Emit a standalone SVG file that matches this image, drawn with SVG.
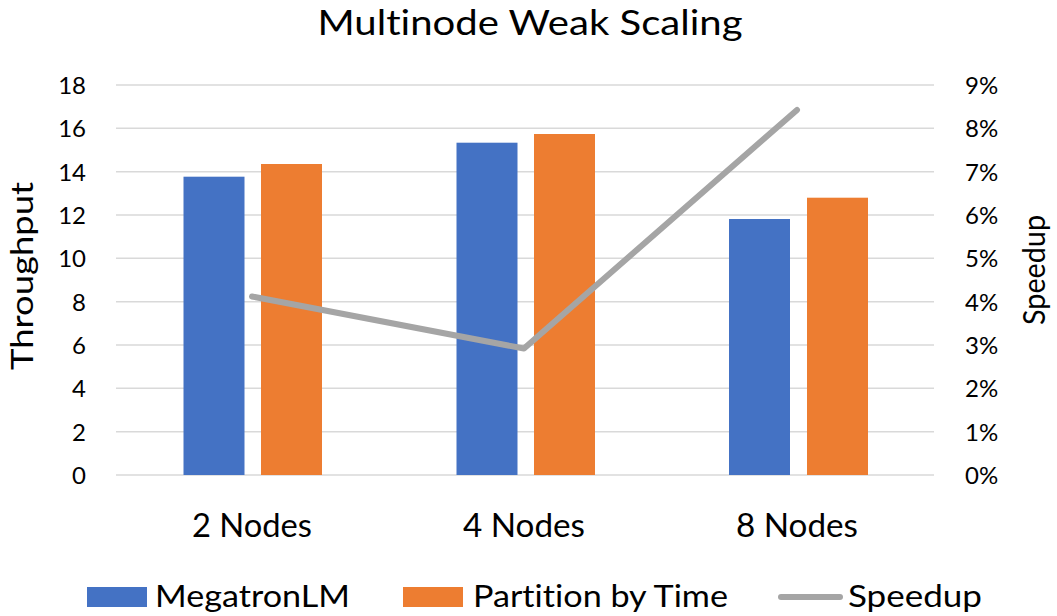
<svg xmlns="http://www.w3.org/2000/svg" width="1057" height="616" viewBox="0 0 1057 616">
<style>
text{font-family:Lato,"Open Sans","Liberation Sans",sans-serif;fill:#000;font-variant-ligatures:none;font-feature-settings:"liga" 0,"dlig" 0}
.tick{font-size:24px}
.tl{text-anchor:end}
.cat{font-size:33px;text-anchor:middle}
.leg{font-size:30px}
.grid line{stroke:#D9D9D9;stroke-width:1.5}
.blue{fill:#4472C4}
.orange{fill:#ED7D31}
.spd{fill:none;stroke:#A5A5A5;stroke-width:6;stroke-linecap:round;stroke-linejoin:round}
</style>
<rect width="1057" height="616" fill="#fff"/>
<text id="title" x="530" y="35" font-size="35" text-anchor="middle" textLength="425" lengthAdjust="spacingAndGlyphs">Multinode Weak Scaling</text>
<g class="grid">
<line x1="116" y1="85" x2="934" y2="85"/>
<line x1="116" y1="128.3" x2="934" y2="128.3"/>
<line x1="116" y1="171.7" x2="934" y2="171.7"/>
<line x1="116" y1="215" x2="934" y2="215"/>
<line x1="116" y1="258.3" x2="934" y2="258.3"/>
<line x1="116" y1="301.7" x2="934" y2="301.7"/>
<line x1="116" y1="345" x2="934" y2="345"/>
<line x1="116" y1="388.3" x2="934" y2="388.3"/>
<line x1="116" y1="431.7" x2="934" y2="431.7"/>
<line x1="116" y1="475" x2="934" y2="475"/>
</g>
<g id="left-axis" class="tick tl">
<text x="86" y="94">18</text>
<text x="86" y="137.3">16</text>
<text x="86" y="180.7">14</text>
<text x="86" y="224">12</text>
<text x="86" y="267.3">10</text>
<text x="86" y="310.7">8</text>
<text x="86" y="354">6</text>
<text x="86" y="397.3">4</text>
<text x="86" y="440.7">2</text>
<text x="86" y="484">0</text>
</g>
<g id="right-axis" class="tick">
<text x="965" y="94">9%</text>
<text x="965" y="137.3">8%</text>
<text x="965" y="180.7">7%</text>
<text x="965" y="224">6%</text>
<text x="965" y="267.3">5%</text>
<text x="965" y="310.7">4%</text>
<text x="965" y="354">3%</text>
<text x="965" y="397.3">2%</text>
<text x="965" y="440.7">1%</text>
<text x="965" y="484">0%</text>
</g>
<text id="ytitle" transform="translate(33,276) rotate(-90)" font-size="30" text-anchor="middle" textLength="188" lengthAdjust="spacingAndGlyphs">Throughput</text>
<text id="y2title" transform="translate(1045,270) rotate(-90)" font-size="30" text-anchor="middle" textLength="110" lengthAdjust="spacingAndGlyphs">Speedup</text>
<g id="bars-megatron" class="blue">
<rect x="183.5" y="176.7" width="61" height="298.3"/>
<rect x="456.5" y="142.7" width="61" height="332.3"/>
<rect x="729" y="219" width="61" height="256"/>
</g>
<g id="bars-partition" class="orange">
<rect x="261" y="164" width="61" height="311"/>
<rect x="534" y="134" width="61" height="341"/>
<rect x="807" y="197.7" width="61" height="277.3"/>
</g>
<g id="connectors">
<polyline class="spd" points="252,296.5 524,348.5 797,110"/>
</g>
<g id="categories" class="cat">
<text x="252" y="537" textLength="120" lengthAdjust="spacingAndGlyphs">2 Nodes</text>
<text x="524" y="537" textLength="122" lengthAdjust="spacingAndGlyphs">4 Nodes</text>
<text x="797" y="537" textLength="122" lengthAdjust="spacingAndGlyphs">8 Nodes</text>
</g>
<g id="legend" class="leg">
<rect class="blue" x="87" y="587" width="60" height="20"/>
<text x="155" y="607" textLength="195" lengthAdjust="spacingAndGlyphs">MegatronLM</text>
<rect class="orange" x="403" y="587" width="60" height="20"/>
<text x="473" y="607" textLength="255" lengthAdjust="spacingAndGlyphs">Partition by Time</text>
<line class="spd" x1="781" y1="597" x2="840" y2="597"/>
<text x="848" y="607" textLength="134" lengthAdjust="spacingAndGlyphs">Speedup</text>
</g>
</svg>
